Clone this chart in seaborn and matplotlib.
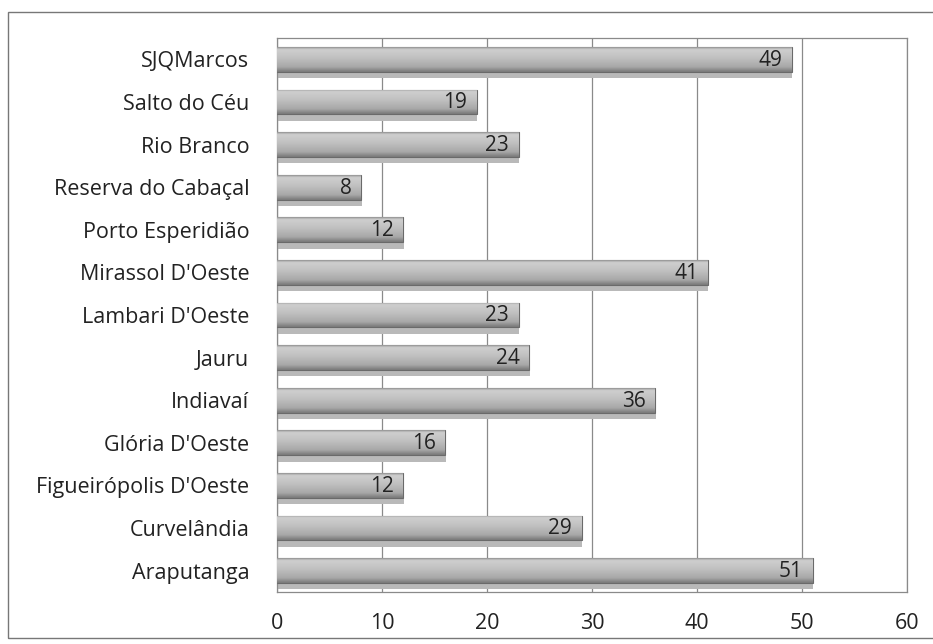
import matplotlib
matplotlib.use("Agg")
import matplotlib.pyplot as plt
import seaborn as sns
import numpy as np
import pandas as pd
from matplotlib.patches import Rectangle

categories = ["SJQMarcos", "Salto do Céu", "Rio Branco", "Reserva do Cabaçal",
              "Porto Esperidião", "Mirassol D'Oeste", "Lambari D'Oeste", "Jauru",
              "Indiavaí", "Glória D'Oeste", "Figueirópolis D'Oeste", "Curvelândia",
              "Araputanga"]
values = [49, 19, 23, 8, 12, 41, 23, 24, 36, 16, 12, 29, 51]
x_ticks = [0, 10, 20, 30, 40, 50, 60]

df = pd.DataFrame({"cat": categories, "val": values})

sns.set_theme(style="white")
plt.rcParams['font.family'] = ['Open Sans', 'DejaVu Sans']

fig = plt.figure(figsize=(9.33, 6.44), dpi=100)
fig.patch.set_facecolor("white")
ax = fig.add_axes([277/933, 1-592/644, (907-277)/933, (592-38)/644])

sns.barplot(data=df, y="cat", x="val", order=categories, orient="h",
            color="#b4b4b4", width=0.58, ax=ax, zorder=3)

ax.set_xlim(0, 60)
ax.set_xticks(x_ticks)
ax.set_xticklabels([str(t) for t in x_ticks], fontsize=15.5, color="#222222")
ax.tick_params(axis="x", length=0, pad=15)
ax.tick_params(axis="y", length=0, pad=20, labelsize=15.5, labelcolor="#222222")
ax.set_xlabel("")
ax.set_ylabel("")
for t in x_ticks:
    ax.axvline(t, color="#8a8a8a", lw=0.9, zorder=1)
for s in ax.spines.values():
    s.set_color("#8a8a8a")
    s.set_linewidth(0.9)

grad = np.linspace(0, 1, 64).reshape(-1, 1)
cmap = matplotlib.colors.LinearSegmentedColormap.from_list(
    "g", [(0.0, "#8e8e8e"), (0.08, "#cfcfcf"), (0.4, "#c2c2c2"),
          (0.8, "#a8a8a8"), (1.0, "#787878")])
for p, v in zip(ax.patches, values):
    x0, y0 = p.get_x(), p.get_y()
    w, h = p.get_width(), p.get_height()
    # shadow below the bar
    sh = Rectangle((x0 + 0.05, y0 + h * 0.5), w, h * 0.5 + 0.15,
                   facecolor="#b9b9b9", edgecolor="none", zorder=2)
    ax.add_patch(sh)
    p.set_edgecolor("#6a6a6a")
    p.set_linewidth(0.8)
    im = ax.imshow(grad, extent=[x0, x0 + w, y0 + h, y0], aspect="auto",
                   cmap=cmap, zorder=3.5, interpolation="bicubic")
    im.set_clip_path(p)
    ax.text(x0 + w - 0.9, y0 + h / 2 + 0.02, str(v), ha="right", va="center",
            fontsize=15, color="#222222", zorder=5)

ax.set_ylim(len(categories) - 0.5, -0.5)
ax.set_xlim(0, 60)

frame = Rectangle((8/933, 6/644), 1 - 8/933 + 0.01, (638 - 12)/644,
                  transform=fig.transFigure, fill=False, edgecolor="#777777",
                  lw=1.0)
fig.patches.append(frame)

fig.savefig("out.png", dpi=100)
